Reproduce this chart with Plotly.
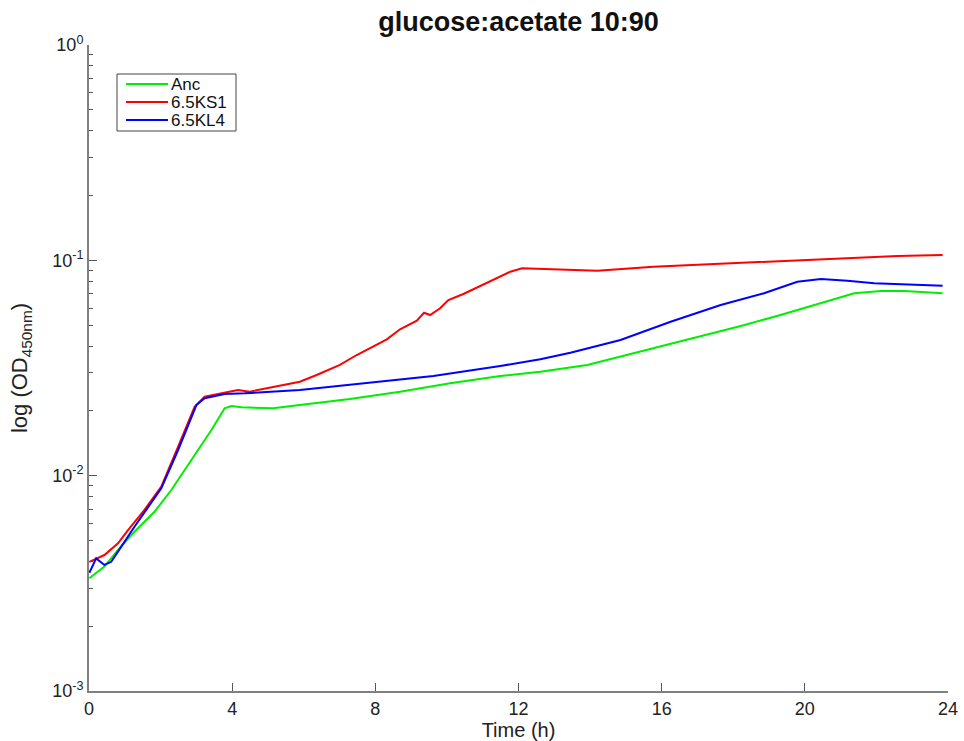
import plotly.graph_objects as go

# Time (h) and OD450 values
t_anc = [0.01, 0.43, 0.81, 1.27, 1.83, 2.30, 2.86, 3.42, 3.79, 3.98, 4.26, 5.14, 5.89,
         7.29, 8.69, 10.09, 11.49, 12.61, 13.92, 15.77, 17.17, 18.21, 19.32, 20.72,
         21.38, 22.13, 22.78, 23.85]
od_anc = [0.00334, 0.00378, 0.00452, 0.00549, 0.00680, 0.00858, 0.01182, 0.01629,
          0.02055, 0.02107, 0.02077, 0.02055, 0.02128, 0.02270, 0.02454, 0.02685,
          0.02903, 0.03040, 0.03266, 0.03903, 0.04499, 0.04955, 0.05572, 0.06493,
          0.07030, 0.07206, 0.07206, 0.07030]

t_ks1 = [0.01, 0.43, 0.81, 1.09, 1.55, 2.02, 2.49, 2.95, 3.23, 3.79, 4.16, 4.49, 5.33,
         5.89, 6.36, 7.01, 7.48, 8.32, 8.69, 9.16, 9.36, 9.53, 9.81, 10.04, 10.46,
         11.12, 11.77, 12.10, 12.61, 13.17, 14.20, 15.77, 17.93, 20.25, 22.59, 23.85]
od_ks1 = [0.00398, 0.00428, 0.00485, 0.00559, 0.00693, 0.00889, 0.01363, 0.02090,
          0.02326, 0.02428, 0.02499, 0.02454, 0.02609, 0.02732, 0.02934, 0.03266,
          0.03634, 0.04298, 0.04782, 0.05243, 0.05711, 0.05572, 0.05986, 0.06542,
          0.06977, 0.07872, 0.08856, 0.09183, 0.09113, 0.09084, 0.08949, 0.09342,
          0.09687, 0.1003, 0.1047, 0.1059]

t_kl4 = [0.01, 0.20, 0.43, 0.62, 0.81, 1.27, 2.02, 2.49, 3.00, 3.23, 3.79, 4.35, 5.89,
         7.76, 9.62, 11.49, 12.61, 13.45, 14.85, 16.25, 17.65, 18.86, 19.79, 20.45,
         21.19, 21.94, 23.06, 23.85]
od_kl4 = [0.00354, 0.00413, 0.00385, 0.00398, 0.00444, 0.00579, 0.00874, 0.01316,
          0.02128, 0.02287, 0.02393, 0.02412, 0.02499, 0.02702, 0.02903, 0.03231,
          0.03470, 0.03724, 0.04266, 0.05188, 0.06202, 0.07030, 0.07957, 0.08189,
          0.08042, 0.07821, 0.07738, 0.07624]

series_names = ["Anc", "6.5KS1", "6.5KL4"]
series_colors = ["#00ee00", "#ff0000", "#0000ff"]

x_ticks = [0, 4, 8, 12, 16, 20, 24]
y_ticks = [0.001, 0.01, 0.1, 1]
y_ticktext = ["10<sup>-3</sup>", "10<sup>-2</sup>", "10<sup>-1</sup>", "10<sup>0</sup>"]
y_minor = [m * 10 ** e for e in (-3, -2, -1) for m in range(2, 10)]

FONT = "Liberation Sans, Arial, Helvetica, sans-serif"

# plot-area geometry (pixels)
W, H = 964, 741
L, R, T, B = 89, 16, 45, 50
PW, PH = W - L - R, H - T - B


def px(xp):
    return (xp - L) / PW


def py(yp):
    return (H - B - yp) / PH


fig = go.Figure()
for tx, ty, nm, col in zip([t_anc, t_ks1, t_kl4], [od_anc, od_ks1, od_kl4],
                           series_names, series_colors):
    fig.add_trace(go.Scatter(x=tx, y=ty, mode="lines", name=nm,
                             line=dict(color=col, width=2), showlegend=False))

# legend drawn as a boxed key (matching the reference's compact key)
shapes = [dict(type="rect", xref="paper", yref="paper",
               x0=px(117), x1=px(236), y0=py(131), y1=py(74),
               line=dict(color="#444444", width=1), fillcolor="white", layer="above")]
annotations = []
for i, (nm, col) in enumerate(zip(series_names, series_colors)):
    yrow = 84 + i * 18
    shapes.append(dict(type="line", xref="paper", yref="paper",
                       x0=px(126), x1=px(168), y0=py(yrow), y1=py(yrow),
                       line=dict(color=col, width=2), layer="above"))
    annotations.append(dict(text=nm, xref="paper", yref="paper",
                            x=px(169), y=py(yrow), xanchor="left", yanchor="middle",
                            showarrow=False, font=dict(size=17, color="#111111")))

fig.update_layout(
    width=W, height=H,
    margin=dict(l=L, r=R, t=T, b=B),
    paper_bgcolor="white", plot_bgcolor="white",
    font=dict(family=FONT, size=18, color="#222222"),
    title=dict(text="<b>glucose:acetate 10:90</b>", x=0.5, xref="paper",
               y=1 - 22 / H, yref="container", yanchor="middle",
               font=dict(size=27, color="#111111")),
    showlegend=False,
    shapes=shapes,
    annotations=annotations,
    xaxis=dict(range=[0, 24], tickmode="array", tickvals=x_ticks,
               showline=True, linecolor="#808080", linewidth=2,
               ticks="inside", ticklen=8, tickcolor="#555555", tickwidth=1,
               showgrid=False, zeroline=False, automargin=False,
               title=dict(text="Time (h)", standoff=0, font=dict(size=20)),
               tickfont=dict(size=18)),
    yaxis=dict(type="log", range=[-3, 0], tickmode="array", tickvals=y_ticks,
               ticktext=y_ticktext, showline=True, linecolor="#808080", linewidth=2,
               ticks="inside", ticklen=8, tickcolor="#555555", tickwidth=1,
               showgrid=False, zeroline=False, automargin=False,
               minor=dict(tickmode="array", tickvals=y_minor, ticks="inside",
                          ticklen=4, tickcolor="#555555", showgrid=False),
               title=dict(text="log (OD<sub>450nm</sub>)", standoff=18,
                          font=dict(size=22)),
               tickfont=dict(size=18)),
)

fig.write_html("out.html")
